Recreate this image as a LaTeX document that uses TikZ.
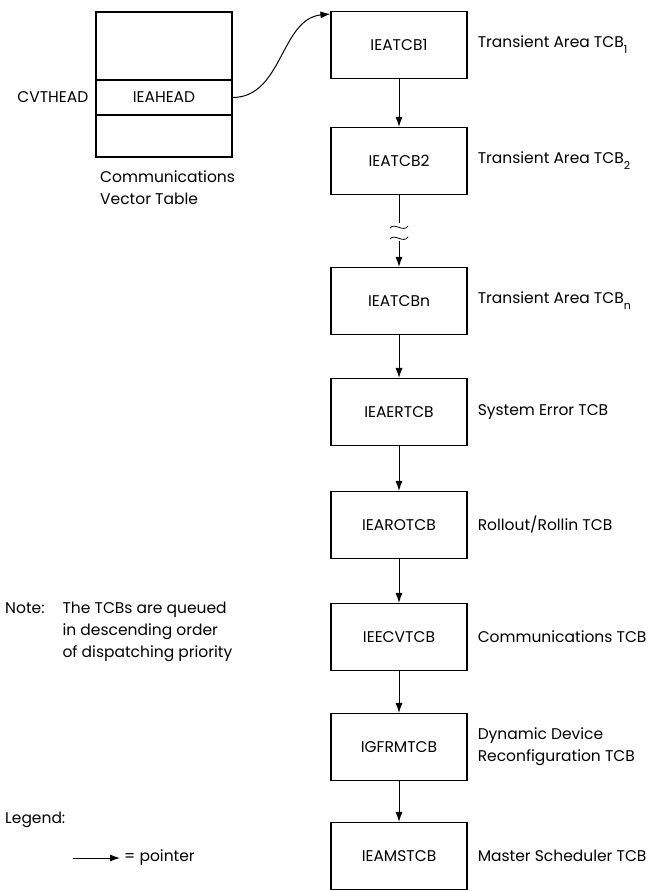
\documentclass[tikz,border=0pt]{standalone}
\usepackage{fontspec}
\setmainfont{Poppins}
\usetikzlibrary{arrows.meta,positioning}
\tikzset{
  tcb/.style={
    draw,
    line width = 1.1pt,
    minimum width = 136pt,
    minimum height = 67pt,
    inner sep = 0pt
  },
  cvt/.style={
    draw,
    line width = 1.1pt,
    minimum width = 136pt,
    inner sep = 0pt
  },
  desc/.style={
    anchor = west,
    align = left,
    inner sep = 0pt
  },
  ptr/.style={
    -{Latex[length=10pt,width=7pt]},
    line width = 1pt
  },
  every picture/.style = {
    font=\fontsize{15.5}{22}\selectfont
  }
}
\newcommand{\tcbsub}[1]{\raisebox{-0.7ex}{\fontsize{11}{12}\selectfont #1}}

\begin{document}
\begin{tikzpicture}[x=1pt,y=-1pt]
    \useasboundingbox (0,0) rectangle (651,891);
    \def\bx{399}
    % communications vector table
    \node[cvt, minimum height=68pt] (cvttop) at (164,46) {};
    \node[cvt, minimum height=35pt] (ieahead) at (164,97.5) {IEAHEAD};
    \node[cvt, minimum height=42pt] (cvtbot) at (164,136) {};
    \node[anchor=east, inner sep=0pt] (cvthead) at ([xshift=-7pt]ieahead.west) {CVTHEAD};
    \node[anchor=north west, align=left, inner sep=0pt] (cvtname) at (100,171) {Communications\\Vector Table};
    % queue of TCBs
    \node[tcb] (tcb1) at (\bx,45) {IEATCB1};
    \node[tcb] (tcb2) at (\bx,161) {IEATCB2};
    \node[tcb] (tcbn) at (\bx,301) {IEATCBn};
    \node[tcb] (ertcb) at (\bx,412) {IEAERTCB};
    \node[tcb] (rotcb) at (\bx,525) {IEAROTCB};
    \node[tcb] (cvtcb) at (\bx,637) {IEECVTCB};
    \node[tcb] (rmtcb) at (\bx,747) {IGFRMTCB};
    \node[tcb] (mstcb) at (\bx,856) {IEAMSTCB};
    % descriptions
    \node[desc] (d1) at ([xshift=10pt]tcb1.east) {Transient Area TCB\tcbsub{1}};
    \node[desc] (d2) at ([xshift=10pt]tcb2.east) {Transient Area TCB\tcbsub{2}};
    \node[desc] (dn) at ([xshift=10pt]tcbn.east) {Transient Area TCB\tcbsub{n}};
    \node[desc] (der) at ([xshift=10pt]ertcb.east) {System Error TCB};
    \node[desc] (dro) at ([xshift=10pt]rotcb.east) {Rollout/Rollin TCB};
    \node[desc] (dcv) at ([xshift=10pt]cvtcb.east) {Communications TCB};
    \node[desc] (drm) at ([xshift=10pt]rmtcb.east) {Dynamic Device\\Reconfiguration TCB};
    \node[desc] (dms) at ([xshift=10pt]mstcb.east) {Master Scheduler TCB};
    % pointers
    \draw[ptr] (ieahead.east) .. controls +(50,0) and +(-50,5) .. ([yshift=-3pt]tcb1.north west);
    \draw[ptr] (tcb1) -- (tcb2);
    \coordinate (brka) at (\bx,223);
    \coordinate (brkb) at (\bx,241);
    \draw[line width=1pt] (tcb2) -- (brka);
    \draw[line width=0.8pt] (390,228) .. controls (395,222) and (403,233) .. (408,226);
    \draw[line width=0.8pt] (390,239) .. controls (395,233) and (403,244) .. (408,237);
    \draw[ptr] (brkb) -- (tcbn);
    \draw[ptr] (tcbn) -- (ertcb);
    \draw[ptr] (ertcb) -- (rotcb);
    \draw[ptr] (rotcb) -- (cvtcb);
    \draw[ptr] (cvtcb) -- (rmtcb);
    \draw[ptr] (rmtcb) -- (mstcb);
    % note and legend
    \node[anchor=north west, inner sep=0pt] (note) at (5,598) {\begin{tabular}{@{}l@{\hspace{18pt}}l@{}}Note: & The TCBs are queued\\ & in descending order\\ & of dispatching priority\end{tabular}};
    \node[desc] (legend) at (5,820) {Legend:};
    \coordinate (lga) at (73,858);
    \coordinate (lgb) at (120,858);
    \draw[ptr] (lga) -- (lgb);
    \node[desc] (lgtext) at (124,858) {= pointer};
\end{tikzpicture}
\end{document}
